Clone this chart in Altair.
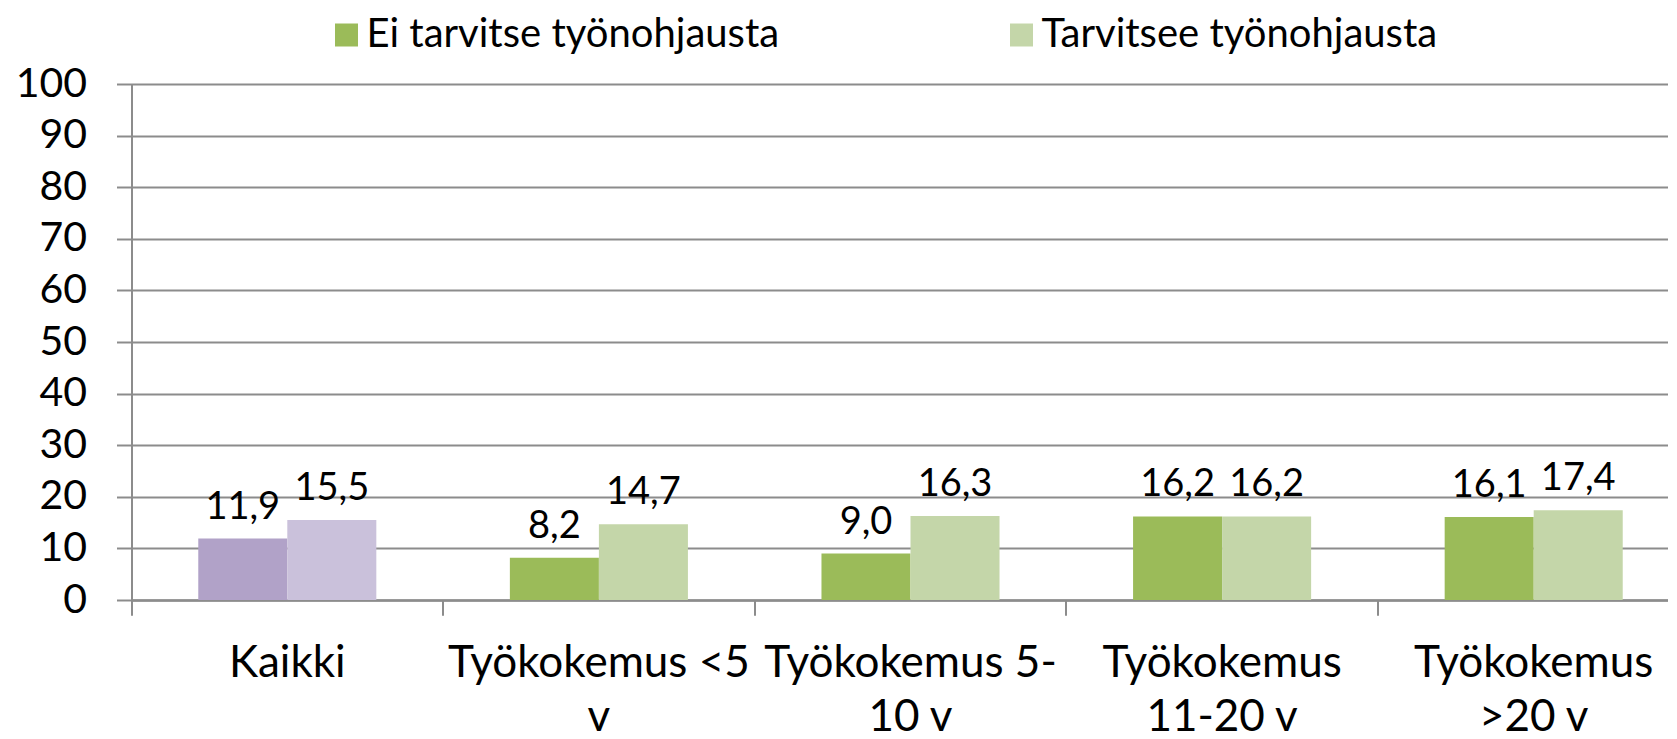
import altair as alt
import pandas as pd

categories = ["Kaikki", "Työkokemus <5\nv", "Työkokemus 5-\n10 v", "Työkokemus\n11-20 v", "Työkokemus\n>20 v"]
series = ["Ei tarvitse työnohjausta", "Tarvitsee työnohjausta"]
ei_values = [11.9, 8.2, 9.0, 16.2, 16.1]
tarvitsee_values = [15.5, 14.7, 16.3, 16.2, 17.4]
y_ticks = [0, 10, 20, 30, 40, 50, 60, 70, 80, 90, 100]

green_colors = ["#9BBB59", "#C4D6A9"]
purple_colors = ["#B1A2C8", "#CAC1DB"]
grey = "#8C8C8C"
FONT = "Lato"

rows = []
for cat, a, b in zip(categories, ei_values, tarvitsee_values):
    for s, v in zip(series, [a, b]):
        rows.append({"category": cat, "series": s, "value": v,
                     "label": f"{v:.1f}".replace(".", ",")})
df = pd.DataFrame(rows)

x_scale = alt.Scale(domain=categories, range=[0, 1558], paddingInner=0, paddingOuter=0)
xoff = alt.XOffset("series:N", sort=series,
                   scale=alt.Scale(domain=series, paddingInner=0, paddingOuter=0.75))
y_enc = alt.Y("value:Q", scale=alt.Scale(domain=[0, 100], nice=False, zero=True),
              axis=alt.Axis(values=y_ticks, title=None, grid=True, gridColor=grey, gridWidth=2,
                            domainColor=grey, domainWidth=2, tickColor=grey, tickWidth=2,
                            tickSize=15, labelFont=FONT, labelFontSize=41, labelColor="black",
                            labelPadding=30))

tick_axis = alt.Axis(title=None, orient="bottom", labels=False, ticks=True, tickSize=15,
                     bandPosition=0, domain=True, domainColor=grey, domainWidth=2,
                     tickColor=grey, tickWidth=2, grid=False)
label_axis = alt.Axis(title=None, orient="bottom", ticks=False, tickSize=0, domain=False,
                      grid=False, labelExpr="split(datum.label, '\\n')", labelFont=FONT,
                      labelFontSize=44, labelColor="black", labelLineHeight=54,
                      labelPadding=41, labelAngle=0, labelBaseline="top", labelLimit=600,
                      labelOverlap=False)

base = alt.Chart(df)

green = base.transform_filter(alt.datum.category != "Kaikki").mark_bar().encode(
    x=alt.X("category:N", sort=categories, scale=x_scale, axis=tick_axis),
    xOffset=xoff,
    y=y_enc,
    color=alt.Color("series:N", sort=series,
                    scale=alt.Scale(domain=series, range=green_colors),
                    legend=alt.Legend(title=None, orient="none", legendX=195, legendY=-69,
                                      direction="horizontal", symbolType="square",
                                      symbolSize=529, symbolStrokeWidth=0, labelFont=FONT,
                                      labelFontSize=40, labelColor="black", labelOffset=0,
                                      columnPadding=222, padding=0, labelLimit=600)),
)

purple = base.transform_filter(alt.datum.category == "Kaikki").mark_bar().encode(
    x=alt.X("category:N", sort=categories, scale=x_scale, axis=tick_axis),
    xOffset=xoff,
    y=y_enc,
    color=alt.Color("series:N", sort=series,
                    scale=alt.Scale(domain=series, range=purple_colors), legend=None),
)

text = base.mark_text(baseline="alphabetic", dy=-20, font=FONT, fontSize=38,
                      color="black").encode(
    x=alt.X("category:N", sort=categories, scale=x_scale, axis=label_axis),
    xOffset=xoff,
    y=alt.Y("value:Q"),
    text="label:N",
)

chart = alt.layer(green, purple, text).resolve_scale(color="independent").resolve_axis(
    x="independent").properties(
    width=1536, height=516,
    autosize=alt.AutoSizeParams(type="none"),
    padding={"left": 123.5, "top": 76, "right": 0, "bottom": 142},
    background="white",
).configure_view(stroke=None)

chart.save("out.html", embed_options={"renderer": "svg", "actions": False})
